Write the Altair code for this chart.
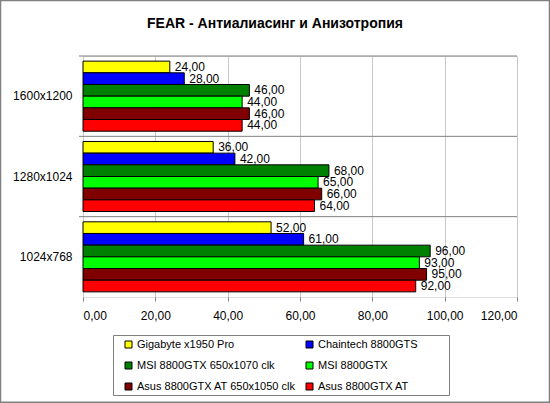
import altair as alt
import pandas as pd

title_text = ["FEAR - Антиалиасинг и Анизотропия"]
categories = ["1600x1200", "1280x1024", "1024x768"]
series = [
    "Gigabyte x1950 Pro",
    "Chaintech 8800GTS",
    "MSI 8800GTX 650x1070 clk",
    "MSI 8800GTX",
    "Asus 8800GTX AT 650x1050 clk",
    "Asus 8800GTX AT",
]
colors = ["#FFFF00", "#0000FF", "#008000", "#00FF00", "#800000", "#FF0000"]
values = {
    "Gigabyte x1950 Pro": [24, 36, 52],
    "Chaintech 8800GTS": [28, 42, 61],
    "MSI 8800GTX 650x1070 clk": [46, 68, 96],
    "MSI 8800GTX": [44, 65, 93],
    "Asus 8800GTX AT 650x1050 clk": [46, 66, 95],
    "Asus 8800GTX AT": [44, 64, 92],
}
x_ticks = [0, 20, 40, 60, 80, 100, 120]

rows = []
for s in series:
    for c, v in zip(categories, values[s]):
        rows.append({"res": c, "card": s, "value": v})
df = pd.DataFrame(rows)
cat_df = pd.DataFrame({"res": categories})

FONT = "Liberation Sans"
W, H = 434, 241

y_enc = alt.Y("res:N", sort=categories,
              scale=alt.Scale(paddingInner=0, paddingOuter=0),
              axis=alt.Axis(title=None, ticks=False, domain=False, grid=False,
                            labelPadding=11, labelFontSize=12, labelFont=FONT,
                            labelColor="black"))

base = alt.Chart(df)

bars = base.mark_bar(stroke="black", strokeWidth=1).encode(
    x=alt.X("value:Q", scale=alt.Scale(domain=[0, 120], nice=False),
            axis=alt.Axis(title=None, values=x_ticks, grid=True, gridColor="#c8c8c8",
                          domain=False, tickColor="#808080", tickSize=4,
                          labelPadding=9, labelFontSize=12, labelFont=FONT,
                          labelColor="black",
                          labelExpr="replace(format(datum.value, '.2f'), '.', ',')")),
    y=y_enc,
    yOffset=alt.YOffset("card:N", sort=series,
                        scale=alt.Scale(paddingInner=0, paddingOuter=0.44)),
    color=alt.Color("card:N", sort=series,
                    scale=alt.Scale(domain=series, range=colors),
                    legend=alt.Legend(title=None, orient="none", legendX=40, legendY=283,
                                      direction="horizontal",
                                      columns=2, columnPadding=8, rowPadding=9,
                                      symbolType="square", symbolSize=49,
                                      symbolStrokeColor="black", symbolStrokeWidth=1,
                                      symbolOpacity=1, labelOffset=3,
                                      labelFontSize=11, labelFont=FONT,
                                      labelColor="black", padding=0)),
)

labels = base.transform_calculate(
    lbl="replace(format(datum.value, '.2f'), '.', ',')"
).mark_text(align="left", baseline="middle", dx=5, fontSize=12, font=FONT,
            color="black").encode(
    x="value:Q",
    y=alt.Y("res:N", sort=categories),
    yOffset=alt.YOffset("card:N", sort=series),
    text="lbl:N",
)

seps = alt.Chart(cat_df).mark_rule(color="#808080", strokeWidth=1).encode(
    y=alt.Y("res:N", sort=categories, bandPosition=0),
    x=alt.value(-4),
    x2=alt.value(W),
)

title = alt.Chart(pd.DataFrame({"t": title_text})).mark_text(
    align="center", baseline="alphabetic", fontSize=14, fontWeight="bold",
    font=FONT, color="black", clip=False).encode(
    text="t:N", x=alt.value(192), y=alt.value(-28))

outer = alt.Chart(pd.DataFrame({"k": ["outer"]})).mark_rect(
    fill=None, stroke="#808080", strokeWidth=1.5, clip=False).encode(
    x=alt.value(-82.5), x2=alt.value(466.5), y=alt.value(-55.5), y2=alt.value(346.2))
legbox = alt.Chart(pd.DataFrame({"k": ["legend"]})).mark_rect(
    fill=None, stroke="#808080", strokeWidth=1, clip=False).encode(
    x=alt.value(30.5), x2=alt.value(366.5), y=alt.value(279.5), y2=alt.value(339.5))

chart = alt.layer(bars, labels, seps, title, outer, legbox).properties(
    width=W, height=H,
    autosize=alt.AutoSizeParams(type="none"),
    padding={"left": 83, "top": 56, "right": 33, "bottom": 106},
).configure_view(stroke="#808080", strokeWidth=1).configure(background="white")

chart.save("out.html", embed_options={"renderer": "svg", "actions": False})
